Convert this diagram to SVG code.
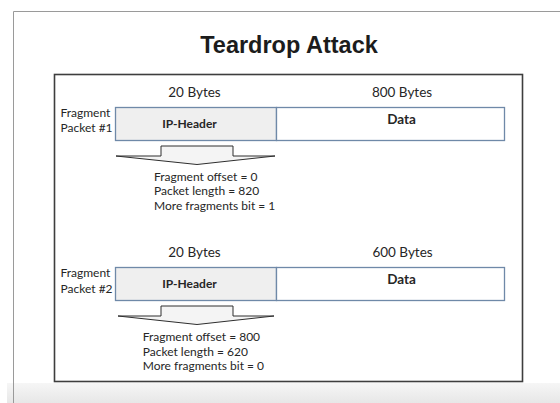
<svg xmlns="http://www.w3.org/2000/svg" width="560" height="403" viewBox="0 0 560 403">
  <style>
    .txt { font-family: Lato, "Liberation Sans", sans-serif; fill: #262626; }
    .title { font-family: "Liberation Sans", Arial, sans-serif; font-weight: bold; font-size: 23.5px; fill: #1c1c1c; }
    .size { font-size: 13.5px; }
    .lbl { font-size: 12px; }
    .info { font-size: 12px; }
    .bold { font-weight: bold; }
    .hdr { fill: #efefef; stroke: #6f89a8; stroke-width: 1.3; }
    .data { fill: #ffffff; stroke: #6f89a8; stroke-width: 1.3; }
    .blockarrow { fill: #f4f4f4; stroke: #2e2e2e; stroke-width: 1; stroke-linejoin: miter; }
  </style>
  <defs>
    <linearGradient id="floor" x1="0" y1="0" x2="0" y2="1">
      <stop offset="0" stop-color="#f6f6f6"/>
      <stop offset="1" stop-color="#e7e7e7"/>
    </linearGradient>
  </defs>

  <!-- page background and slide edge -->
  <rect x="0" y="0" width="560" height="403" fill="#ffffff"/>
  <rect x="7" y="383" width="553" height="20" fill="url(#floor)"/>
  <path d="M13.5,403 V11.5 H560" fill="none" stroke="#9a9a9a" stroke-width="1"/>

  <text class="title" x="289" y="52.5" text-anchor="middle">Teardrop Attack</text>

  <!-- outer content frame -->
  <rect x="54.5" y="74.5" width="468" height="307" fill="#ffffff" stroke="#3e3e3e" stroke-width="1.6"/>

  <!-- fragment 1 -->
  <g id="packet1">
    <text class="txt size" x="194.5" y="96.5" text-anchor="middle">20 Bytes</text>
    <text class="txt size" x="402" y="96.5" text-anchor="middle">800 Bytes</text>
    <text class="txt lbl" x="60.5" y="117">Fragment</text>
    <text class="txt lbl" x="60.5" y="132">Packet #1</text>
    <g id="p1-header">
      <rect class="hdr" x="115.5" y="107.5" width="161" height="33"/>
      <text class="txt lbl bold" x="189.5" y="128" text-anchor="middle">IP-Header</text>
    </g>
    <g id="p1-data">
      <rect class="data" x="276.5" y="107.5" width="228" height="33"/>
      <text class="txt size bold" x="401.5" y="124" text-anchor="middle">Data</text>
    </g>
  </g>
  <g id="info1">
    <text class="txt info" x="154" y="181">Fragment offset = 0</text>
    <text class="txt info" x="154" y="195.3">Packet length = 820</text>
    <text class="txt info" x="154" y="209.6">More fragments bit = 1</text>
  </g>

  <!-- fragment 2 -->
  <g id="packet2">
    <text class="txt size" x="194.5" y="256.7" text-anchor="middle">20 Bytes</text>
    <text class="txt size" x="402.5" y="256.7" text-anchor="middle">600 Bytes</text>
    <text class="txt lbl" x="60.5" y="277.3">Fragment</text>
    <text class="txt lbl" x="60.5" y="292.5">Packet #2</text>
    <g id="p2-header">
      <rect class="hdr" x="115.5" y="267.5" width="161" height="33"/>
      <text class="txt lbl bold" x="189.5" y="288" text-anchor="middle">IP-Header</text>
    </g>
    <g id="p2-data">
      <rect class="data" x="276.5" y="267.5" width="228" height="33"/>
      <text class="txt size bold" x="401.5" y="284.3" text-anchor="middle">Data</text>
    </g>
  </g>
  <g id="info2">
    <text class="txt info" x="142.7" y="341">Fragment offset = 800</text>
    <text class="txt info" x="142.7" y="355.5">Packet length = 620</text>
    <text class="txt info" x="142.7" y="370">More fragments bit = 0</text>
  </g>

  <!-- block arrows from each header down to its field values -->
  <g id="connectors">
    <path class="blockarrow" d="M161,146 H233 V156 H275 L197,164.5 L116,156 H161 Z"/>
    <path class="blockarrow" d="M161,306 H233 V316 H274 L197,324.5 L118,316 H161 Z"/>
  </g>
</svg>
